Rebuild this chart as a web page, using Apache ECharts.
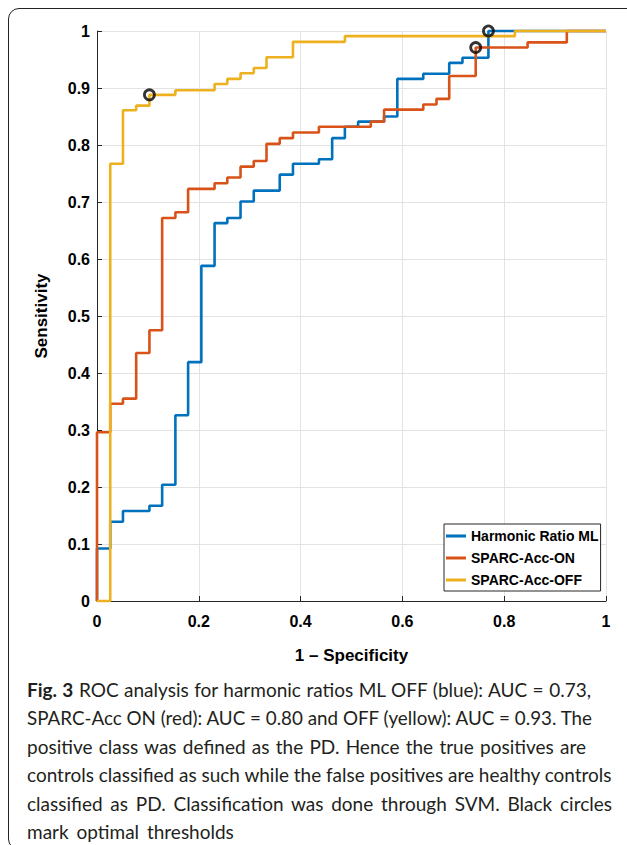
<!DOCTYPE html>
<html>
<head>
<meta charset="utf-8">
<script src="https://cdn.jsdelivr.net/npm/echarts@6/dist/echarts.min.js"></script>
<style>
  html, body { margin: 0; padding: 0; background: #fff; }
  #wrap { position: relative; width: 627px; height: 845px; overflow: hidden; }
  #chart { position: absolute; left: 0; top: 0; width: 627px; height: 845px; }
  #frame { position: absolute; left: 8px; top: 8px; width: 640px; height: 840px;
    border: 1.6px solid #222; border-radius: 11px; pointer-events: none; }
  #caption { position: absolute; left: 27px; top: 676px; color: #231f20;
    font-family: 'Liberation Sans Narrow', 'Lato', 'Open Sans', sans-serif; font-size: 19px; line-height: 28.4px; }
  #caption .ln { white-space: nowrap; text-align: justify; text-align-last: justify; transform-origin: 0 0; }
  #caption .ln.last { text-align: left; text-align-last: left; word-spacing: 3px; }
</style>
</head>
<body>
<div id="wrap">
  <div id="chart"></div>
  <div id="caption">
    <div class="ln" data-w="564"><b>Fig. 3</b> ROC analysis for harmonic ratios ML OFF (blue): AUC = 0.73,</div>
    <div class="ln" data-w="565">SPARC-Acc ON (red): AUC = 0.80 and OFF (yellow): AUC = 0.93. The</div>
    <div class="ln" data-w="559">positive class was defined as the PD. Hence the true positives are</div>
    <div class="ln" data-w="585">controls classified as such while the false positives are healthy controls</div>
    <div class="ln" data-w="585">classified as PD. Classification was done through SVM. Black circles</div>
    <div class="ln last">mark optimal thresholds</div>
  </div>
  <div id="frame"></div>
</div>
<script>
// ROC curves: false positive rate / true positive rate
var hrFpr = [0, 0, 0.026, 0.051, 0.103, 0.128, 0.154, 0.179, 0.205, 0.231, 0.256, 0.282, 0.308, 0.359, 0.385, 0.436, 0.462, 0.487, 0.513, 0.564, 0.590, 0.641, 0.692, 0.718, 0.769, 1];
var hrTpr = [0, 0.092, 0.139, 0.158, 0.167, 0.204, 0.326, 0.419, 0.588, 0.663, 0.672, 0.701, 0.720, 0.748, 0.767, 0.775, 0.812, 0.832, 0.841, 0.850, 0.916, 0.925, 0.944, 0.953, 1.0, 1.0];

var onFpr = [0, 0, 0.026, 0.051, 0.077, 0.103, 0.128, 0.154, 0.179, 0.231, 0.256, 0.282, 0.308, 0.333, 0.359, 0.385, 0.436, 0.538, 0.564, 0.641, 0.667, 0.692, 0.744, 0.846, 0.923, 1];
var onTpr = [0, 0.296, 0.346, 0.355, 0.435, 0.475, 0.672, 0.682, 0.723, 0.733, 0.743, 0.762, 0.772, 0.802, 0.812, 0.822, 0.832, 0.841, 0.862, 0.871, 0.881, 0.921, 0.971, 0.980, 1.0, 1.0];

var offFpr = [0, 0.026, 0.051, 0.077, 0.103, 0.154, 0.231, 0.256, 0.282, 0.308, 0.333, 0.385, 0.487, 0.821, 1];
var offTpr = [0, 0.767, 0.861, 0.869, 0.888, 0.896, 0.907, 0.916, 0.926, 0.935, 0.954, 0.981, 0.991, 1.0, 1.0];

// optimal thresholds (black circles): blue, red, yellow
var optFpr = [0.769, 0.744, 0.103];
var optTpr = [1.0, 0.971, 0.888];

var seriesNames = ['Harmonic Ratio ML', 'SPARC-Acc-ON', 'SPARC-Acc-OFF'];
var seriesColors = ['#0072BD', '#D95319', '#EDB120'];

function pairs(xs, ys) {
  return xs.map(function(x, i) { return [x, ys[i]]; });
}

var font = "'Liberation Sans', Arial, sans-serif";
var ink = '#262626';

var curves = [pairs(hrFpr, hrTpr), pairs(onFpr, onTpr), pairs(offFpr, offTpr)];
var series = curves.map(function(d, i) {
  return {
    name: seriesNames[i],
    type: 'line',
    step: 'end',
    data: d,
    symbol: 'none',
    clip: false,
    lineStyle: { color: seriesColors[i], width: 2.6 },
    itemStyle: { color: seriesColors[i] },
    z: 3 + i
  };
});
series.push({
  name: 'optimal',
  type: 'scatter',
  data: pairs(optFpr, optTpr),
  symbol: 'circle',
  symbolSize: 10,
  clip: false,
  itemStyle: { color: 'rgba(0,0,0,0)', borderColor: '#000', borderWidth: 2.8 },
  z: 10
});

var chart = echarts.init(document.getElementById('chart'), null, { renderer: 'svg' });
chart.setOption({
  animation: false,
  backgroundColor: '#fff',
  grid: { left: 97, right: 21, top: 31, bottom: 244 },
  legend: {
    data: seriesNames,
    orient: 'vertical',
    left: 444,
    top: 524,
    icon: 'rect',
    itemWidth: 20,
    itemHeight: 3,
    itemGap: 8,
    padding: [5, 2, 4, 2],
    borderColor: ink,
    borderWidth: 1,
    backgroundColor: '#fff',
    textStyle: { fontFamily: font, fontWeight: 'bold', fontSize: 14, color: '#000' }
  },
  xAxis: {
    type: 'value',
    min: 0, max: 1, interval: 0.2,
    name: '1 – Specificity',
    nameLocation: 'middle',
    nameGap: 46,
    nameTextStyle: { fontFamily: font, fontWeight: 'bold', fontSize: 17, color: '#000' },
    axisLine: { show: true, onZero: false, lineStyle: { color: ink, width: 1 } },
    axisTick: { show: true, inside: true, length: 5, lineStyle: { color: ink } },
    axisLabel: { fontFamily: font, fontWeight: 'bold', fontSize: 16, color: '#000', margin: 12 },
    splitLine: { show: true, lineStyle: { color: '#e3e3e3', width: 1 } }
  },
  yAxis: {
    type: 'value',
    min: 0, max: 1, interval: 0.1,
    name: 'Sensitivity',
    nameLocation: 'middle',
    nameGap: 47,
    nameTextStyle: { fontFamily: font, fontWeight: 'bold', fontSize: 17, color: '#000' },
    axisLine: { show: true, onZero: false, lineStyle: { color: ink, width: 1 } },
    axisTick: { show: true, inside: true, length: 5, lineStyle: { color: ink } },
    axisLabel: { fontFamily: font, fontWeight: 'bold', fontSize: 16, color: '#000', margin: 7 },
    splitLine: { show: true, lineStyle: { color: '#e3e3e3', width: 1 } }
  },
  series: series
});

// fit caption lines to the widths they have in the printed figure
Array.prototype.forEach.call(document.querySelectorAll('#caption .ln'), function(el) {
  var target = +el.getAttribute('data-w');
  if (!target) return;
  var probe = document.createElement('span');
  probe.style.whiteSpace = 'nowrap';
  probe.innerHTML = el.innerHTML;
  document.body.appendChild(probe);
  probe.style.font = getComputedStyle(el).font;
  var natural = probe.offsetWidth;
  document.body.removeChild(probe);
  if (natural > target) {
    el.style.width = natural + 'px';
    el.style.textAlign = 'left';
    el.style.textAlignLast = 'left';
    el.style.transform = 'scaleX(' + (target / natural) + ')';
  } else {
    el.style.width = target + 'px';
  }
});
</script>
</body>
</html>
